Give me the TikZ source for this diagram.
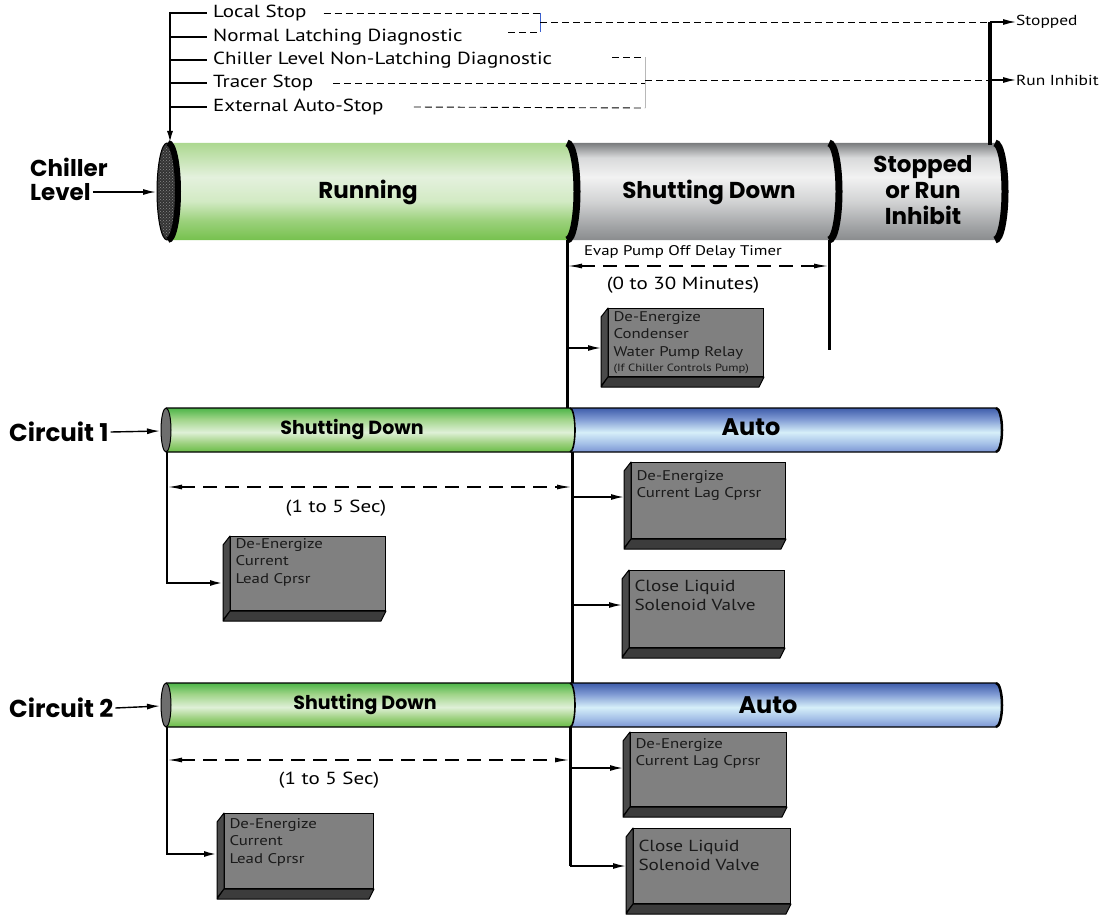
\documentclass[tikz,border=0pt]{standalone}
\usepackage{fontspec}
\setmainfont{PT Sans}[FakeStretch=1.2]
\newfontfamily\gothic{Poppins}
\usetikzlibrary{arrows.meta,patterns}
% gray cylinder
\definecolor{gTop}{HTML}{7A7C7E}\definecolor{gA}{HTML}{D8D9DA}\definecolor{gB}{HTML}{F2F2F2}
\definecolor{gC}{HTML}{D2D3D4}\definecolor{gD}{HTML}{A3A5A7}\definecolor{gBot}{HTML}{8A8C8E}
% chiller green
\definecolor{cTop}{HTML}{ACD890}\definecolor{cA}{HTML}{E4F1DD}\definecolor{cB}{HTML}{D2EAC4}
\definecolor{cC}{HTML}{9CD17C}\definecolor{cBot}{HTML}{76C14E}
% circuit green
\definecolor{kTop}{HTML}{4DB548}\definecolor{kA}{HTML}{9FD488}\definecolor{kB}{HTML}{DFF0D7}
\definecolor{kC}{HTML}{9CD07E}\definecolor{kBot}{HTML}{69BD47}
% blue
\definecolor{bTop}{HTML}{3F5DAB}\definecolor{bA}{HTML}{7F9AD3}\definecolor{bB}{HTML}{D6EFF9}
\definecolor{bC}{HTML}{A6C1E8}\definecolor{bBot}{HTML}{7B95D3}
\definecolor{boxgray}{HTML}{808080}\definecolor{boxside}{HTML}{4A4A4A}\definecolor{boxbot}{HTML}{3C3C3C}
\definecolor{capdark}{HTML}{333333}\definecolor{capgray}{HTML}{6E6E6E}\definecolor{capdot}{HTML}{8A8A8A}
\definecolor{brblue}{HTML}{3A5FCD}\definecolor{brgray}{HTML}{B8B8B8}
\definecolor{boxtext}{HTML}{1A1A1A}
\pgfdeclareverticalshading{grayshade}{100bp}{color(0bp)=(gBot);color(25bp)=(gBot);color(32.5bp)=(gD);color(45bp)=(gC);color(57.5bp)=(gB);color(67.5bp)=(gA);color(75bp)=(gTop);color(100bp)=(gTop)}
\pgfdeclareverticalshading{cgreen}{100bp}{color(0bp)=(cBot);color(25bp)=(cBot);color(35bp)=(cC);color(45bp)=(cB);color(57.5bp)=(cA);color(75bp)=(cTop);color(100bp)=(cTop)}
\pgfdeclareverticalshading{kgreen}{100bp}{color(0bp)=(kBot);color(25bp)=(kBot);color(35bp)=(kC);color(47.5bp)=(kB);color(62.5bp)=(kA);color(75bp)=(kTop);color(100bp)=(kTop)}
\pgfdeclareverticalshading{bluesh}{100bp}{color(0bp)=(bBot);color(25bp)=(bBot);color(35bp)=(bC);color(47.5bp)=(bB);color(62.5bp)=(bA);color(75bp)=(bTop);color(100bp)=(bTop)}
% x1 x2 top bot ry rx shading
\newcommand\cylseg[7]{\shade[shading=#7] (#1,#3) -- (#2,#3) arc[start angle=90,end angle=-90,x radius=#6pt,y radius=#5pt] -- (#1,#4) arc[start angle=-90,end angle=90,x radius=#6pt,y radius=#5pt] -- cycle;}
% name x y w h toppad fontsize text
\newcommand\tdbox[8]{%
  \node[tdb] (#1) at (#2,#3) {\parbox[t][#5pt][t]{#4pt}{\vspace*{#6pt}\leftskip=5pt\relax\color{boxtext}#7#8}};
  \filldraw[fill=boxside, line width=1pt, line join=round] (#1.north west) -- ++(-7,9) -- ([shift={(-7,9)}]#1.south west) -- (#1.south west) -- cycle;
  \filldraw[fill=boxbot, line width=1pt, line join=round] (#1.south west) -- (#1.south east) -- ++(-5,10) -- ([shift={(-7,10)}]#1.south west) -- cycle;
  \coordinate (#1-lf) at ([xshift=-7pt]#1.west);}
\begin{document}
\begin{tikzpicture}[x=1pt,y=-1pt,
  lst/.style={anchor=west, inner sep=0pt, font=\fontsize{17.5}{20}\selectfont},
  big/.style={font=\gothic\bfseries\fontsize{23}{26}\selectfont, inner sep=0pt, align=center},
  mid/.style={font=\gothic\bfseries\fontsize{19}{22}\selectfont, inner sep=0pt},
  conn/.style={line width=2pt},
  arr/.style={line width=1.6pt, -{Latex[length=13pt,width=6pt]}},
  tdash/.style={line width=0.9pt, dash pattern=on 7pt off 4pt},
  dim/.style={line width=1.1pt, dash pattern=on 14pt off 8pt, {Latex[length=14pt,width=5pt]}-{Latex[length=14pt,width=5pt]}},
  tdb/.style={draw=black, line width=1pt, fill=boxgray, inner sep=0pt, anchor=north west},
  note/.style={inner sep=0pt, font=\fontsize{17.5}{20}\selectfont},
]
\useasboundingbox (0,0) rectangle (1100,915);

% ---------- chiller level cylinder ----------
\cylseg{168}{567}{143}{240}{48.5}{10}{cgreen}
\cylseg{567}{829}{143}{240}{48.5}{10}{grayshade}
\cylseg{829}{995}{143}{240}{48.5}{10}{grayshade}
\filldraw[fill=capdark, line width=1pt] (167,191.5) ellipse[x radius=10pt, y radius=48.5pt];
\fill[pattern=crosshatch dots, pattern color=capdot] (167,191.5) ellipse[x radius=9pt, y radius=46pt];
\draw[line width=6pt] (168,143) arc[start angle=90,end angle=-90,x radius=10pt,y radius=48.5pt];
\draw[line width=7pt] (567,143) arc[start angle=90,end angle=-90,x radius=10pt,y radius=48.5pt];
\draw[line width=7pt] (829,143) arc[start angle=90,end angle=-90,x radius=10pt,y radius=48.5pt];
\draw[line width=7pt] (995,143) arc[start angle=90,end angle=-90,x radius=10pt,y radius=48.5pt];
\node[big] (run) at (368,192) {Running};
\node[big] (sdc) at (709,192) {Shutting Down};
\node[big] (sri) at (923,190) {Stopped\\or Run\\Inhibit};
\node[big, anchor=west] (chl1) at (30,167) {Chiller};
\node[big, anchor=west] (chl2) at (30,192) {Level};
\coordinate (chcap) at (156,192);
\draw[arr, line width=1.4pt] ([xshift=2pt]chl2.east) -- (chcap);

% ---------- top list ----------
\coordinate (ltop) at (170,12);
\coordinate (captop) at (170,143);
\draw[line width=2pt, -{Latex[length=12pt,width=6pt]}] (ltop) -- (captop);
\node[lst] (ls)  at (213,13)  {Local Stop};
\node[lst] (nld) at (213,37)  {Normal Latching Diagnostic};
\node[lst] (cln) at (213,60)  {Chiller Level Non-Latching Diagnostic};
\node[lst] (tst) at (213,83)  {Tracer Stop};
\node[lst] (eas) at (213,107) {External Auto-Stop};
\foreach \n in {ls,nld,cln,tst,eas}{\draw[conn] (\n.west -| ltop) -- ([xshift=-6pt]\n.west);}

\coordinate (brA1) at (540,13); \coordinate (brA2) at (540,32); \coordinate (brAm) at (540,22);
\coordinate (nlds) at (508,32);
\draw[tdash] ([xshift=17pt]ls.east) -- (brA1);
\draw[tdash] (nlds) -- (brA2);
\draw[brblue, line width=0.8pt] (brA1) -- (brA2);
\coordinate (brB1) at (645,57); \coordinate (brB2) at (645,108); \coordinate (brBm) at (645,80);
\coordinate (clns) at (612,57);
\draw[tdash] (clns) -- (brB1);
\draw[tdash] ([xshift=20pt]tst.east) -- (brB1 |- tst.east);
\draw[tdash] ([xshift=30pt]eas.east) -- (brB2);
\draw[brgray, line width=0.8pt] (brB1) -- (brB2);

\coordinate (vt) at (990,22); \coordinate (vr) at (990,80); \coordinate (vb) at (990,145);
\node[inner sep=0pt, anchor=west, font=\fontsize{14.5}{16}\selectfont] (stp) at (1016,22) {Stopped};
\node[inner sep=0pt, anchor=west, font=\fontsize{14.5}{16}\selectfont] (rin) at (1016,80) {Run Inhibit};
\draw[tdash] (brAm) -- (vt);
\draw[tdash] (brBm) -- (vr);
\draw[line width=4pt] (vt) -- (vb);
\draw[line width=1.3pt, -{Latex[length=13pt,width=6pt]}] (vt) -- (stp.west);
\draw[line width=1.3pt, -{Latex[length=13pt,width=6pt]}] (vr) -- (rin.west);

% ---------- circuit cylinders ----------
\foreach \t/\b/\m in {408/452/430, 683/727/705}{
  \cylseg{166}{570}{\t}{\b}{22}{5}{kgreen}
  \cylseg{570}{996}{\t}{\b}{22}{6}{bluesh}
  \draw[line width=1.3pt] (166,\t) -- (996,\t) arc[start angle=90,end angle=-90,x radius=6pt,y radius=22pt] -- (166,\b);
  \draw[line width=2.5pt] (996,\t) arc[start angle=90,end angle=-90,x radius=6pt,y radius=22pt];
  \draw[line width=1.6pt] (570,\t) arc[start angle=90,end angle=-90,x radius=5pt,y radius=22pt];
  \filldraw[fill=capgray, line width=1pt] (166,\m) ellipse[x radius=5pt, y radius=22pt];
}
\node[mid] (sd1) at (352,429) {Shutting Down};
\node[mid, font=\gothic\bfseries\fontsize{24}{26}\selectfont] (au1) at (751,427) {Auto};
\node[mid] (sd2) at (365,704) {Shutting Down};
\node[mid, font=\gothic\bfseries\fontsize{24}{26}\selectfont] (au2) at (768,705) {Auto};
\node[big, anchor=west, font=\gothic\bfseries\fontsize{24.5}{26}\selectfont] (c1l) at (9,432) {Circuit 1};
\node[big, anchor=west, font=\gothic\bfseries\fontsize{24.5}{26}\selectfont] (c2l) at (9,708) {Circuit 2};
\coordinate (c1cap) at (160,431); \coordinate (c2cap) at (160,706);
\draw[arr, line width=1.4pt] ([xshift=2pt]c1l.east) -- (c1cap);
\draw[arr, line width=1.4pt] ([xshift=2pt]c2l.east) -- (c2cap);

% ---------- main vertical ----------
\coordinate (cb) at (567,240); \coordinate (c1t) at (567,408);
\coordinate (c1b) at (572,452); \coordinate (c2t) at (572,683);
\coordinate (c2b) at (570,727); \coordinate (vend) at (570,866);
\draw[line width=3pt] (cb) -- (c1t);
\draw[line width=3pt] (c1b) -- (c2t);
\draw[line width=3pt] (c2b) -- (vend);

% timer
\coordinate (tRt) at (829,240); \coordinate (tRb) at (829,350);
\draw[line width=3pt] (tRt) -- (tRb);
\coordinate (d0a) at (568,266); \coordinate (d0b) at (828,266);
\draw[dim] (d0a) -- (d0b);
\node[inner sep=0pt, font=\fontsize{14}{16}\selectfont] (evt) at (683,252) {Evap Pump Off Delay Timer};
\node[note] (ott) at (683,285) {(0 to 30 Minutes)};

% ---------- boxes ----------
\tdbox{cond}{608}{308}{155}{68}{3}{\fontsize{14}{17.3}\selectfont}{De-Energize\\Condenser\\Water Pump Relay\\[-2pt]{\fontsize{10.5}{12}\selectfont(If Chiller Controls Pump)}}
\tdbox{lead1}{230}{536}{155}{74}{2}{\fontsize{14}{17.5}\selectfont}{De-Energize\\Current\\Lead Cprsr}
\tdbox{lag1}{631}{462}{154}{76}{8}{\fontsize{14}{17}\selectfont}{De-Energize\\Current Lag Cprsr}
\tdbox{close1}{629}{570}{155}{77}{10}{\fontsize{16}{19}\selectfont}{Close Liquid\\Solenoid Valve}
\tdbox{lead2}{224}{813}{149}{75}{5}{\fontsize{14}{17.5}\selectfont}{De-Energize\\Current\\Lead Cprsr}
\tdbox{lag2}{630}{732}{156}{74}{6}{\fontsize{14}{17}\selectfont}{De-Energize\\Current Lag Cprsr}
\tdbox{close2}{633}{828}{157}{75}{12}{\fontsize{16}{19}\selectfont}{Close Liquid\\Solenoid Valve}

\coordinate (ca) at (567,348);
\draw[arr] (ca) -- (ca -| cond-lf);

% circuit 1 connectors
\coordinate (l1t) at (167,452); \coordinate (l1b) at (167,583);
\draw[conn, -{Latex[length=13pt,width=6pt]}] (l1t) -- (l1b) -- (l1b -| lead1-lf);
\coordinate (d1a) at (168,487); \coordinate (d1b) at (571,487);
\draw[dim] (d1a) -- (d1b);
\node[note] (t1) at (336,508) {(1 to 5 Sec)};
\coordinate (r1a) at (572,497); \coordinate (r1b) at (572,605);
\draw[arr] (r1a) -- (r1a -| lag1-lf);
\draw[arr] (r1b) -- (r1b -| close1-lf);

% circuit 2 connectors
\coordinate (l2t) at (167,727); \coordinate (l2b) at (167,854);
\draw[conn, -{Latex[length=13pt,width=6pt]}] (l2t) -- (l2b) -- (l2b -| lead2-lf);
\coordinate (d2a) at (168,760); \coordinate (d2b) at (569,760);
\draw[dim] (d2a) -- (d2b);
\node[note] (t2) at (329,780) {(1 to 5 Sec)};
\coordinate (r2a) at (570,768); \coordinate (r2b) at (570,866);
\draw[arr] (r2a) -- (r2a -| lag2-lf);
\draw[arr] (r2b) -- (r2b -| close2-lf);
\end{tikzpicture}
\end{document}
